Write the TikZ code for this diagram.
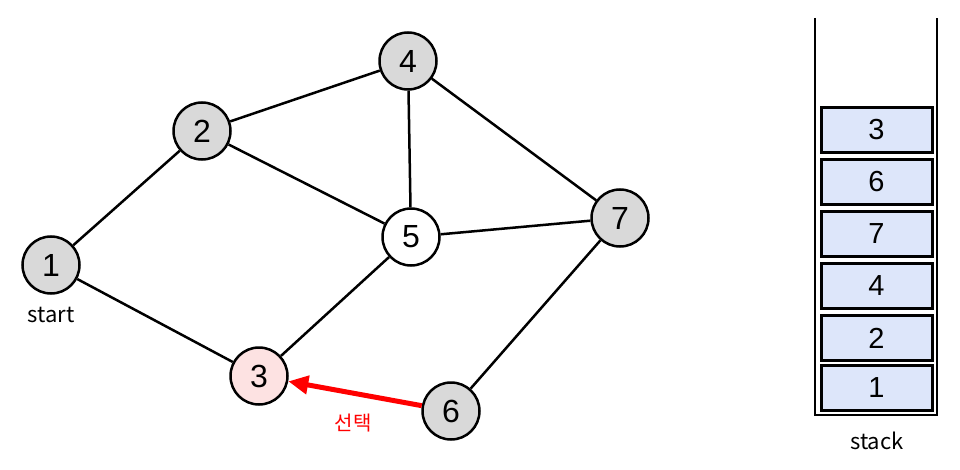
\documentclass[tikz,border=0pt]{standalone}
\usepackage{fontspec}
\setmainfont{Liberation Sans}
\newfontfamily\kr{Noto Sans CJK KR}
\usetikzlibrary{arrows.meta}
\definecolor{ngray}{HTML}{D9D9D9}
\definecolor{npink}{HTML}{FDE2E2}
\definecolor{sblue}{HTML}{DDE6FA}
\begin{document}
\begin{tikzpicture}[x=1pt,y=-1pt,
  vert/.style={circle,draw=black,line width=2.5pt,minimum size=57pt,inner sep=0pt,font=\fontsize{32}{32}\selectfont,fill=ngray},
  edge/.style={line width=2.5pt},
  sbox/.style={draw=black,line width=3pt,fill=sblue,minimum width=111pt,minimum height=45pt,inner sep=0pt,font=\fontsize{29}{29}\selectfont},
  lbl/.style={font=\kr\fontsize{22}{22}\selectfont,inner sep=0pt}]
\useasboundingbox (0,0) rectangle (960,470);
\node[vert] (n1) at (51,265) {1};
\node[vert] (n2) at (202,131) {2};
\node[vert] (n4) at (408,61) {4};
\node[vert,fill=white] (n5) at (411,237) {5};
\node[vert] (n7) at (620,218) {7};
\node[vert,fill=npink] (n3) at (259,376) {3};
\node[vert] (n6) at (451,411) {6};
\draw[edge] (n1) -- (n2);
\draw[edge] (n2) -- (n4);
\draw[edge] (n2) -- (n5);
\draw[edge] (n4) -- (n5);
\draw[edge] (n4) -- (n7);
\draw[edge] (n5) -- (n7);
\draw[edge] (n1) -- (n3);
\draw[edge] (n3) -- (n5);
\draw[edge] (n6) -- (n7);
\draw[red,line width=5pt,-{Triangle[length=20pt,width=18pt]}] (n6) -- (n3);
\node[lbl] (ls) at (51,315) {start};
\node[lbl,text=red,font=\kr\fontsize{20}{20}\selectfont] (lsel) at (353,423) {선택};
\coordinate (ctl) at (815,18);
\coordinate (cbl) at (815,415);
\coordinate (cbr) at (937,415);
\coordinate (ctr) at (937,18);
\draw[line width=2.5pt] (ctl) -- (cbl) -- (cbr) -- (ctr);
\node[sbox] (s3) at (876.5,130) {3};
\node[sbox] (s6) at (876.5,182) {6};
\node[sbox] (s7) at (876.5,234) {7};
\node[sbox] (s4) at (876.5,286) {4};
\node[sbox] (s2) at (876.5,338) {2};
\node[sbox] (s1) at (876.5,388) {1};
\node[lbl] (lst) at (877,441) {stack};
\end{tikzpicture}
\end{document}
